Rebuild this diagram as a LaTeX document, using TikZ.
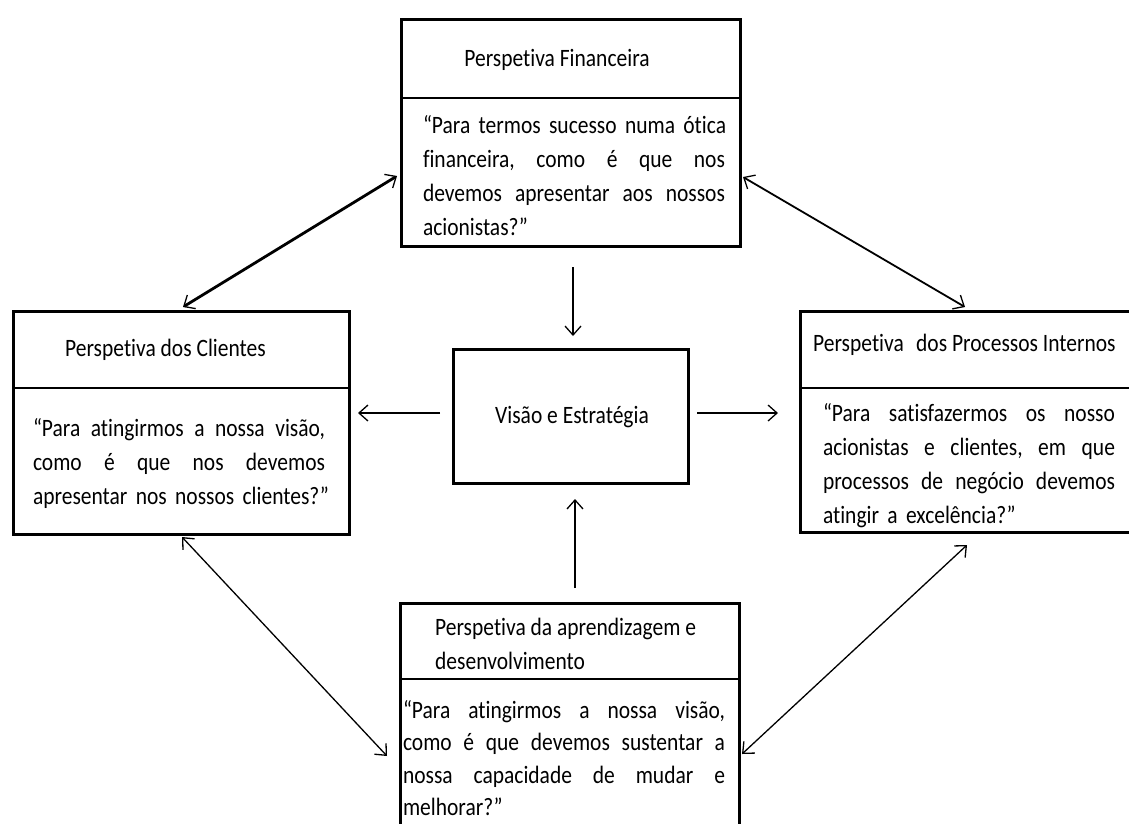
\documentclass[tikz,border=0pt]{standalone}
\usepackage{fontspec}
\setmainfont[FakeStretch=0.86,Ligatures={NoCommon}]{Carlito}
\usetikzlibrary{arrows.meta}
\newcommand\jline[2]{\hbox to #1{#2}}
\newcommand\nline[1]{\hbox{#1}}
\newcommand\hf{\hfill\ }
\begin{document}
\begin{tikzpicture}[x=1pt,y=-1pt,
  box/.style={draw, line width=2.6pt, inner sep=0pt, anchor=north west},
  divline/.style={line width=2.6pt},
  hdr/.style={inner sep=0pt, font=\fontsize{25}{34}\selectfont, align=left},
  body/.style={inner sep=0pt, font=\fontsize{25}{34}\selectfont, align=left},
  conn/.style={line width=1.3pt, {Straight Barb[length=9pt,width=16pt,line width=1.3pt]}-{Straight Barb[length=9pt,width=16pt,line width=1.3pt]}},
  arr/.style={line width=1.3pt, -{Straight Barb[length=9pt,width=16pt,line width=1.3pt]}}
]
\useasboundingbox (0,0) rectangle (1129,823);
\clip (0,0) rectangle (1129,823);

% boxes
\node[box, minimum width=339pt, minimum height=227pt] (fin) at (400,18) {};
\draw[divline] (400,98) -- (739,98);
\node[box, minimum width=336pt, minimum height=223pt] (cli) at (12,310) {};
\draw[divline] (12,388) -- (348,388);
\node[box, minimum width=235pt, minimum height=134pt] (vis) at (452,348) {};
\node[box, minimum width=340pt, minimum height=221pt] (pro) at (799,310) {};
\draw[divline] (799,388) -- (1139,388);
\node[box, minimum width=339pt, minimum height=240pt] (apr) at (399,602) {};
\draw[divline] (399,679) -- (738,679);

% texts
\node[hdr] (finh) at (557,60) {Perspetiva Financeira};
\node[body, text width=302pt] (finb) at (574,176) {%
\jline{302pt}{“Para\hf termos\hf sucesso\hf numa\hf ótica}
\jline{302pt}{financeira,\hf como\hf é\hf que\hf nos}
\jline{302pt}{devemos\hf apresentar\hf aos\hf nossos}
\nline{acionistas?”}};

\node[hdr, anchor=west] (clih) at (65,350) {Perspetiva dos Clientes};
\node[body, text width=292pt] (clib) at (179,463) {%
\jline{292pt}{“Para\hf atingirmos\hf a\hf nossa\hf visão,}
\jline{292pt}{como\hf é\hf que\hf nos\hf devemos}
\nline{apresentar nos nossos clientes?”}};

\node[hdr] (vish) at (572,417) {Visão e Estratégia};

\node[hdr, anchor=west] (proh) at (813,345) {Perspetiva\hspace{0.3em} dos Processos Internos};
\node[body, text width=292pt] (prob) at (969,466) {%
\jline{292pt}{“Para\hf satisfazermos\hf os\hf nosso}
\jline{292pt}{acionistas\hf e\hf clientes,\hf em\hf que}
\jline{292pt}{processos\hf de\hf negócio\hf devemos}
\nline{atingir a excelência?”}};

\node[hdr, anchor=west] (aprh) at (435,644) {Perspetiva da aprendizagem e\\desenvolvimento};
\node[body, text width=322pt, font=\fontsize{25}{32.5}\selectfont] (aprb) at (564,758) {%
\jline{322pt}{“Para\hf atingirmos\hf a\hf nossa\hf visão,}
\jline{322pt}{como\hf é\hf que\hf devemos\hf sustentar\hf a}
\jline{322pt}{nossa\hf capacidade\hf de\hf mudar\hf e}
\nline{melhorar?”}};

% connector end points
\coordinate (fl) at (397,176);
\coordinate (ct) at (183,307);
\coordinate (fr) at (743,177);
\coordinate (pt) at (965,307);
\coordinate (cb) at (182,537);
\coordinate (al) at (387,756);
\coordinate (pb) at (967,545);
\coordinate (ar) at (742,754);
\coordinate (d1) at (573,267);
\coordinate (d2) at (573,336);
\coordinate (u1) at (575,588);
\coordinate (u2) at (575,499);
\coordinate (l1) at (440,413);
\coordinate (l2) at (358,413);
\coordinate (r1) at (697,413);
\coordinate (r2) at (778,413);

\draw[conn, line width=2.8pt] (fl) -- (ct);
\draw[conn, line width=1.8pt] (fr) -- (pt);
\draw[conn] (cb) -- (al);
\draw[conn] (pb) -- (ar);
\draw[arr] (d1) -- (d2);
\draw[arr] (u1) -- (u2);
\draw[arr] (l1) -- (l2);
\draw[arr] (r1) -- (r2);
\end{tikzpicture}
\end{document}
